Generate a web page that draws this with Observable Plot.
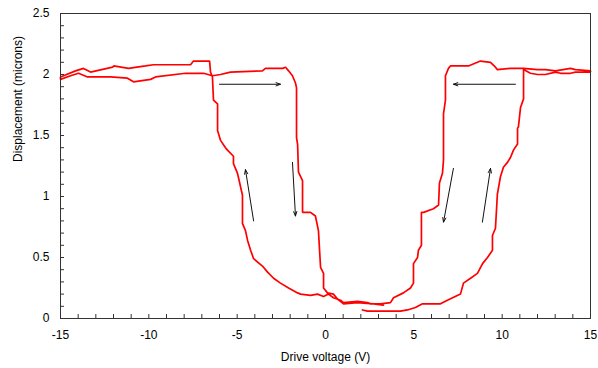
<!DOCTYPE html>
<html>
<head>
<meta charset="utf-8">
<script src="https://cdn.jsdelivr.net/npm/d3@7"></script>
<script src="https://cdn.jsdelivr.net/npm/@observablehq/plot@0.6"></script>
<style>
  html, body { margin: 0; padding: 0; background: #fff; }
</style>
</head>
<body>
<div id="chart"></div>
<script>
// Tick values
const xMajorTicks = [-15, -10, -5, 0, 5, 10, 15];
const xMinorTicks = [-15,-14,-13,-12,-11,-10,-9,-8,-7,-6,-5,-4,-3,-2,-1,0,1,2,3,4,5,6,7,8,9,10,11,12,13,14,15];
const yMajorTicks = [0, 0.5, 1, 1.5, 2, 2.5];
const yMinorTicks = [0,0.1,0.2,0.3,0.4,0.5,0.6,0.7,0.8,0.9,1,1.1,1.2,1.3,1.4,1.5,1.6,1.7,1.8,1.9,2,2.1,2.2,2.3,2.4,2.5];

// Segment 1: start near 2 V at the bottom, sweep up to +15 V
const seg1V = [2.09,2.38,4.24,4.64,5.09,5.49,6.51,6.90,7.64,7.81,8.21,8.60,8.89,9.17,9.45,9.45,9.62,9.73,9.90,10.07,10.30,10.47,10.64,10.87,10.87,10.92,11.04,11.21,11.21,11.60,12.00,12.45,13.02,13.30,13.87,14.15,15.0];
const seg1D = [0.07,0.06,0.06,0.07,0.09,0.12,0.12,0.15,0.20,0.29,0.33,0.37,0.45,0.50,0.56,0.68,0.74,1.02,1.16,1.24,1.28,1.32,1.38,1.43,1.56,1.57,1.73,1.80,2.04,2.01,2.00,2.00,2.02,2.01,2.01,2.02,2.02];

// Segment 2: back from +15 V down through 0 to -15 V
const seg2V = [15.0,14.15,13.87,13.02,12.45,12.00,11.21,10.47,9.73,9.62,9.34,8.77,8.60,8.09,7.53,7.07,6.96,6.79,6.79,6.68,6.68,6.62,6.45,6.40,6.11,5.55,5.43,5.43,5.26,5.21,4.98,4.98,4.81,4.41,3.85,3.68,3.11,2.55,2.38,1.81,1.02,0.85,0.45,0.17,-0.11,-0.45,-0.85,-1.41,-1.58,-2.09,-2.55,-2.94,-3.28,-3.57,-4.07,-4.24,-4.41,-4.53,-4.70,-4.70,-4.98,-5.21,-5.21,-5.55,-5.66,-5.94,-6.11,-6.11,-6.34,-6.40,-6.51,-6.56,-7.47,-7.64,-9.73,-10.19,-11.15,-11.99,-12.05,-13.30,-13.70,-14.15,-14.83,-15.0];
const seg2D = [2.03,2.04,2.05,2.03,2.04,2.04,2.05,2.05,2.04,2.06,2.10,2.11,2.10,2.07,2.07,2.07,2.05,1.99,1.79,1.68,1.30,1.19,1.11,0.93,0.90,0.87,0.87,0.60,0.56,0.50,0.45,0.29,0.25,0.21,0.17,0.13,0.12,0.12,0.13,0.14,0.13,0.15,0.17,0.20,0.18,0.20,0.19,0.20,0.21,0.25,0.29,0.33,0.38,0.43,0.49,0.56,0.64,0.72,0.78,1.01,1.19,1.27,1.33,1.38,1.40,1.46,1.54,1.76,1.79,1.98,2.02,2.11,2.11,2.08,2.08,2.07,2.05,2.07,2.06,2.02,2.05,2.03,1.99,1.98];

// Segment 3: from -15 V back toward 0 V
const seg3V = [-15.0,-14.43,-13.98,-13.47,-12.17,-11.21,-10.87,-9.90,-9.62,-7.92,-6.90,-6.40,-5.94,-5.38,-3.57,-3.40,-2.43,-2.26,-2.09,-1.87,-1.70,-1.64,-1.64,-1.58,-1.53,-1.30,-1.30,-0.85,-0.57,-0.40,-0.28,-0.11,-0.11,0.11,0.45,0.68,1.02,1.81,2.72,3.28];
const seg3D = [1.96,1.99,2.01,1.98,1.98,1.97,1.94,1.96,1.98,2.01,2.01,1.99,2.00,2.02,2.03,2.05,2.05,2.06,2.03,1.99,1.93,1.89,1.48,1.43,1.20,1.13,0.87,0.87,0.84,0.72,0.42,0.37,0.25,0.21,0.20,0.16,0.12,0.13,0.12,0.11];

// Direction arrows
const arrowX1 = [-6.0, -4.07, -1.87, 10.75, 7.24, 8.88];
const arrowY1 = [1.92, 0.80, 1.28, 1.92, 1.23, 0.79];
const arrowX2 = [-2.55, -4.53, -1.70, 7.24, 6.68, 9.34];
const arrowY2 = [1.92, 1.22, 0.84, 1.92, 0.79, 1.23];

const xLabel = "Drive voltage (V)";
const yLabel = "Displacement (microns)";

const allV = seg1V.concat(seg2V, seg3V);
const allD = seg1D.concat(seg2D, seg3D);
const curve = allV.map((v, i) => ({v, d: allD[i]}));
const arrows = arrowX1.map((x1, i) => ({x1, y1: arrowY1[i], x2: arrowX2[i], y2: arrowY2[i]}));

const W = 598, H = 368, ML = 60, MR = 8, MT = 13, MB = 50, TICK = 4;
const frameW = W - ML - MR, frameH = H - MT - MB;
const fmt = d => String(d);

const chart = Plot.plot({
  width: W,
  height: H,
  marginLeft: ML,
  marginRight: MR,
  marginTop: MT,
  marginBottom: MB,
  style: {fontFamily: "'Liberation Sans', Arial, sans-serif", fontSize: "12px", color: "#000", background: "#fff"},
  x: {domain: [-15, 15]},
  y: {domain: [0, 2.5]},
  marks: [
    // inward tick marks
    Plot.ruleX(xMinorTicks, {x: d => d, insetTop: frameH - TICK, stroke: "#333"}),
    Plot.ruleY(yMinorTicks, {y: d => d, insetRight: frameW - TICK, stroke: "#333"}),
    Plot.axisX({ticks: xMajorTicks, tickSize: 0, tickPadding: 12, tickFormat: fmt, label: null}),
    Plot.axisY({ticks: yMajorTicks, tickSize: 0, tickPadding: 11, tickFormat: fmt, label: null}),
    Plot.line(curve, {x: "v", y: "d", stroke: "#ff0000", strokeWidth: 1.7, strokeLinejoin: "miter"}),
    Plot.arrow(arrows, {x1: "x1", y1: "y1", x2: "x2", y2: "y2", stroke: "#111", strokeWidth: 1, headLength: 7, headAngle: 40}),
    Plot.frame({stroke: "#333"}),
    Plot.text([xLabel], {frameAnchor: "bottom", dy: 39, text: d => d, lineAnchor: "middle", fill: "#000"}),
    Plot.text([yLabel], {frameAnchor: "left", dx: -42, dy: -4, rotate: -90, text: d => d, lineAnchor: "middle", fill: "#000"})
  ]
});
document.getElementById("chart").appendChild(chart);
</script>
</body>
</html>
